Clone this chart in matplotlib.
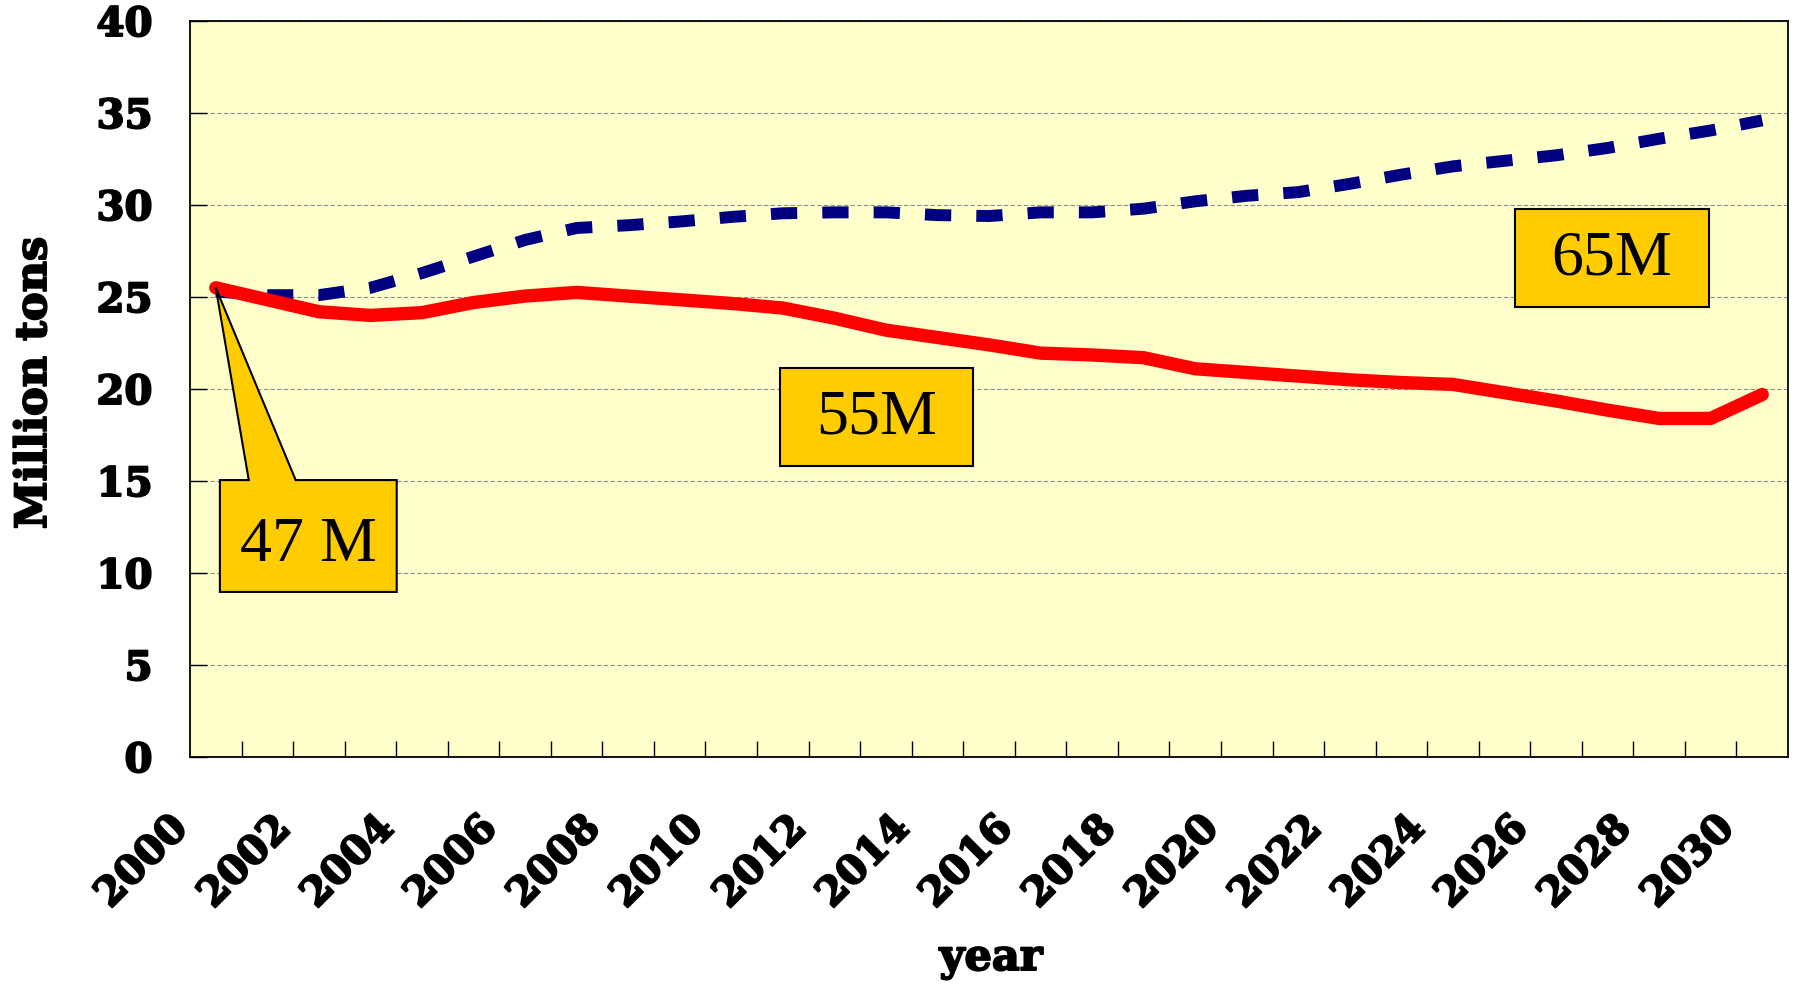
import matplotlib
matplotlib.use('Agg')
import matplotlib.pyplot as plt
import matplotlib.patheffects as pe
from matplotlib.patches import Polygon, Rectangle
from matplotlib.transforms import ScaledTranslation

years = list(range(2000, 2031))
low = [25.5, 24.85, 24.2, 24.0, 24.15, 24.7, 25.05, 25.25, 25.05, 24.85,
       24.65, 24.4, 23.85, 23.2, 22.8, 22.4, 21.95, 21.85, 21.7, 21.1,
       20.9, 20.7, 20.5, 20.35, 20.25, 19.8, 19.35, 18.85, 18.4, 18.4, 19.7]
high = [25.3, 25.1, 25.1, 25.5, 26.3, 27.2, 28.1, 28.75, 28.9, 29.1,
        29.35, 29.55, 29.6, 29.6, 29.45, 29.4, 29.6, 29.6, 29.8, 30.2,
        30.5, 30.7, 31.15, 31.65, 32.1, 32.4, 32.7, 33.1, 33.6, 34.05, 34.6]
yticks = [0, 5, 10, 15, 20, 25, 30, 35, 40]
label_years = years[::2]

tick_font = {'family': 'DejaVu Serif', 'weight': 'bold', 'size': 29}
box_font = {'family': 'Liberation Serif', 'size': 46}
heavy = [pe.withStroke(linewidth=1.4, foreground='black')]

fig = plt.figure(figsize=(17.99, 9.87), dpi=100)
ax = fig.add_axes([190 / 1799, 1 - 758 / 987, 1598 / 1799, 736 / 987])
ax.set_facecolor('#FFFFCC')

ax.plot(years, high, color='#000080', lw=8.6, dashes=(2.2, 2.1),
        solid_capstyle='butt', dash_capstyle='butt', zorder=3)
ax.plot(years, low, color='#FF0000', lw=9.6, solid_capstyle='round',
        solid_joinstyle='round', zorder=4)

ax.set_xlim(years[0] - 0.5, years[-1] + 0.5)
ax.set_ylim(0, 40)
ax.set_yticks(yticks)
ax.set_yticklabels([str(v) for v in yticks], fontdict=tick_font)
ax.yaxis.grid(True, color='#8c8c8c', lw=0.8, linestyle=(0, (4, 2)))
ax.set_axisbelow(True)

ax.set_xticks(label_years)
ax.set_xticklabels([str(y) for y in label_years], fontdict=tick_font)
ax.set_xticks([y + 0.5 for y in years[:-1]], minor=True)
ax.tick_params(axis='x', which='major', length=0, pad=47)
ax.tick_params(axis='x', which='minor', direction='in', length=11.5, width=1)
ax.tick_params(axis='y', direction='in', length=12, width=1, pad=27)
shift = ScaledTranslation(-0.34, 0, fig.dpi_scale_trans)
for lab in ax.get_xticklabels():
    lab.set_rotation(45)
    lab.set_ha('right')
    lab.set_va('center')
    lab.set_rotation_mode('anchor')
    lab.set_transform(lab.get_transform() + shift)
    lab.set_path_effects(heavy)
for lab in ax.get_yticklabels():
    lab.set_path_effects(heavy)

for s in ax.spines.values():
    s.set_linewidth(1.3)
    s.set_color('black')

# callout boxes
x0, x1, y0, y1 = 2000.08, 2003.51, 8.97, 15.05
callout = Polygon([(x0, y1), (2000.64, y1), (years[0], low[0]), (2001.55, y1),
                   (x1, y1), (x1, y0), (x0, y0)], closed=True,
                  facecolor='#FFCC00', edgecolor='black', lw=1.5, zorder=6)
ax.add_patch(callout)
ax.text((x0 + x1) / 2, (y0 + y1) / 2 - 0.5, '47 M', ha='center', va='center',
        fontdict=box_font, zorder=7)

for bx0, bx1, by0, by1, txt in [(2010.95, 2014.68, 15.81, 21.12, '55M'),
                                (2025.21, 2028.96, 24.44, 29.77, '65M')]:
    ax.add_patch(Rectangle((bx0, by0), bx1 - bx0, by1 - by0, facecolor='#FFCC00',
                           edgecolor='black', lw=1.5, zorder=6))
    ax.text((bx0 + bx1) / 2, (by0 + by1) / 2, txt, ha='center', va='center',
            fontdict=box_font, zorder=7)

fig.text(34 / 1799, 1 - 384 / 987, 'Million tons', rotation=90, ha='center',
         va='center', family='DejaVu Serif', weight='bold', size=31,
         path_effects=heavy)
fig.text(991 / 1799, 1 - 971 / 987, 'year', ha='center', va='baseline',
         family='DejaVu Serif', weight='bold', size=31, path_effects=heavy)

fig.savefig('out.png', dpi=100, facecolor='white')
